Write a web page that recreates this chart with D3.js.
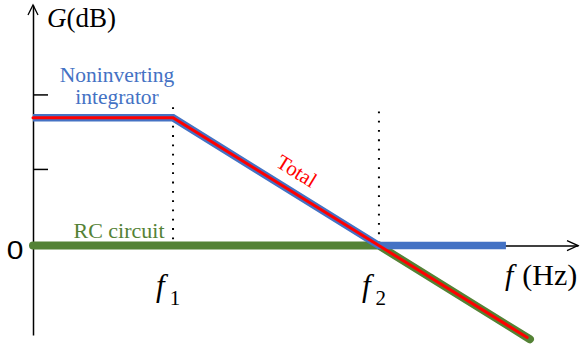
<html>
<head>
<script src="https://d3js.org/d3.v7.min.js"></script>
<style>
body { margin: 0; background: white; }
text { font-family: "Liberation Serif", "Times New Roman", serif; }
.axis path, .axis line { stroke: black; stroke-width: 1.5px; }
</style>
</head>
<body>
<svg id="bode" width="585" height="347"></svg>

<script>
var svg = d3.select("#bode");

// x in decades, G in dB (straight-line Bode asymptotes)
var cornerNames = ["1", "2"];
var cornerX = [2, 5];
var integratorX = [-0.04, 2, 5, 6.85];
var integratorG = [60, 60, 0, 0];
var rcX = [-0.04, 5, 7.2];
var rcG = [0, 0, -44];
var totalX = [-0.04, 2, 7.16];
var totalG = [60, 60, -43.2];
var guideTop = [65, 63];
var yTicks = [36, 71];

var x = d3.scaleLinear().domain([-0.04, 7.9]).range([33, 578]);
var y = d3.scaleLinear().domain([-42, 113]).range([335, 5]);

var line = d3.line()
    .x(function(d) { return x(d[0]); })
    .y(function(d) { return y(d[1]); });

// axes
svg.append("g").attr("class", "axis")
    .attr("transform", "translate(" + x(-0.04) + ",0)")
    .call(d3.axisRight(y).tickValues(yTicks).tickSize(15).tickSizeOuter(0).tickFormat(""));
svg.append("g").attr("class", "axis")
    .attr("transform", "translate(0," + y(0) + ")")
    .call(d3.axisBottom(x).tickValues([]).tickSizeOuter(0));

// arrow heads
var ax = x(-0.04), ay = y(113), bx = x(7.9), by = y(0);
svg.append("path")
    .attr("d", "M" + (ax - 5) + "," + (ay + 10) + "L" + ax + "," + ay + "L" + (ax + 5) + "," + (ay + 10))
    .attr("fill", "none").attr("stroke", "black").attr("stroke-width", 1.3);
svg.append("path")
    .attr("d", "M" + (bx - 11) + "," + (by - 5) + "L" + bx + "," + by + "L" + (bx - 11) + "," + (by + 5))
    .attr("fill", "none").attr("stroke", "black").attr("stroke-width", 1.3);

// dotted guides
svg.selectAll("line.guide")
    .data(cornerX)
    .enter().append("line")
      .attr("class", "guide")
      .attr("x1", function(d) { return x(d); })
      .attr("x2", function(d) { return x(d); })
      .attr("y1", function(d, i) { return y(guideTop[i]); })
      .attr("y2", y(0))
      .attr("stroke", "black")
      .attr("stroke-width", 2)
      .attr("stroke-dasharray", "1.8,7.5");

// curves
svg.append("path")
    .datum(d3.zip(rcX, rcG))
    .attr("d", line)
    .attr("fill", "none").attr("stroke", "#548235")
    .attr("stroke-width", 8).attr("stroke-linecap", "round");

svg.append("path")
    .datum(d3.zip(integratorX, integratorG))
    .attr("d", line)
    .attr("fill", "none").attr("stroke", "#4472C4")
    .attr("stroke-width", 7.5).attr("stroke-linecap", "butt");

svg.append("path")
    .datum(d3.zip(totalX, totalG))
    .attr("d", line)
    .attr("fill", "none").attr("stroke", "#FF0000")
    .attr("stroke-width", 3).attr("stroke-linecap", "round");

// labels
var g = svg.append("text").attr("x", 47).attr("y", 27).style("font-size", "27px");
g.append("tspan").attr("font-style", "italic").text("G");
g.append("tspan").text("(dB)");

svg.append("text")
    .attr("transform", "translate(15," + (y(0) + 13) + ") scale(1.2,1)")
    .attr("text-anchor", "middle")
    .style("font-family", "'Liberation Sans', Arial, sans-serif")
    .style("font-size", "25px")
    .text("0");

svg.append("text").attr("x", 117).attr("y", 82)
    .attr("text-anchor", "middle").style("font-size", "21.5px")
    .attr("fill", "#4472C4").text("Noninverting");
svg.append("text").attr("x", 117).attr("y", 104)
    .attr("text-anchor", "middle").style("font-size", "21.5px")
    .attr("fill", "#4472C4").text("integrator");

svg.append("text").attr("x", 119).attr("y", 238)
    .attr("text-anchor", "middle").style("font-size", "22px")
    .attr("fill", "#548235").text("RC circuit");

var ang = Math.atan2(y(0) - y(60), x(5) - x(2)) * 180 / Math.PI;
svg.append("text")
    .attr("transform", "translate(293,177) rotate(" + ang + ")")
    .attr("text-anchor", "middle").style("font-size", "21px")
    .attr("fill", "#FF0000").text("Total");

cornerX.forEach(function(d, i) {
  var t = svg.append("text")
      .attr("x", x(d) - 17).attr("y", 296).style("font-size", "31px");
  t.append("tspan").attr("font-style", "italic").text("f");
  t.append("tspan").style("font-size", "21px").attr("dy", 9).attr("dx", 5).text(cornerNames[i]);
});

var fz = svg.append("text").attr("x", 505).attr("y", 285).style("font-size", "30px");
fz.append("tspan").attr("font-style", "italic").text("f");
fz.append("tspan").attr("dx", 9).text("(Hz)");
</script>

</body>
</html>
